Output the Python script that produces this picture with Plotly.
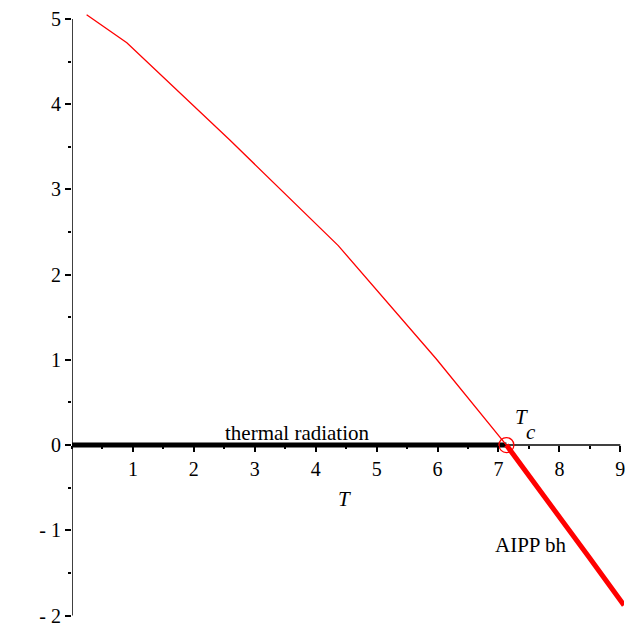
import plotly.graph_objects as go

# Data
T_free = [0.24, 0.90, 2.59, 4.37, 5.98, 7.13]
F_free = [5.05, 4.72, 3.58, 2.34, 1.01, 0.0]
T_bh = [7.13, 7.80, 8.49, 9.06]
F_bh = [0.0, -0.64, -1.32, -1.88]
T_rad = [0.0, 7.13]
F_rad = [0.0, 0.0]
Tc = 7.13
x_ticks = [1, 2, 3, 4, 5, 6, 7, 8, 9]
y_ticks = [-2, -1, 0, 1, 2, 3, 4, 5]
y_ticktext = ["- 2", "- 1", "0", "1", "2", "3", "4", "5"]

FONT = "Liberation Serif, Times New Roman, serif"

fig = go.Figure()
fig.add_trace(go.Scatter(x=T_rad, y=F_rad, mode="lines",
                         line=dict(color="black", width=5), hoverinfo="skip"))
fig.add_trace(go.Scatter(x=T_free, y=F_free, mode="lines",
                         line=dict(color="#ff0000", width=1.3), hoverinfo="skip"))
fig.add_trace(go.Scatter(x=T_bh, y=F_bh, mode="lines",
                         line=dict(color="#ff0000", width=5), hoverinfo="skip"))
fig.add_trace(go.Scatter(x=[Tc], y=[0], mode="markers",
                         marker=dict(symbol="circle-open", size=15, color="#ff0000",
                                     line=dict(width=1.3, color="#ff0000")),
                         hoverinfo="skip"))

# axis lines
fig.add_shape(type="line", x0=0, x1=9, y0=0, y1=0, xref="x", yref="y",
              line=dict(color="black", width=1.5), layer="below")
fig.add_shape(type="line", x0=0, x1=0, y0=-2, y1=5, xref="x", yref="y",
              line=dict(color="black", width=1.5), layer="below")

ymin, ymax = -2.111, 5.222
fig.update_layout(
    width=625, height=627,
    margin=dict(l=72, r=0, t=0, b=0),
    paper_bgcolor="white", plot_bgcolor="white",
    showlegend=False,
    font=dict(family=FONT, size=20, color="black"),
    xaxis=dict(range=[0, 9.06], showgrid=False, zeroline=False, showline=False,
               anchor="free", position=(0 - ymin) / (ymax - ymin),
               tickmode="array", tickvals=x_ticks, ticklabeloverflow="allow",
               ticks="outside", ticklen=6, tickwidth=1.5, tickcolor="black",
               minor=dict(dtick=0.5, tick0=0, ticks="outside", ticklen=3,
                          tickwidth=1.5, tickcolor="black", showgrid=False),
               tickfont=dict(family=FONT, size=20)),
    yaxis=dict(range=[ymin, ymax], showgrid=False, zeroline=False, showline=False,
               tickmode="array", tickvals=y_ticks, ticktext=y_ticktext,
               ticklabeloverflow="allow",
               ticks="outside", ticklen=6, tickwidth=1.5, tickcolor="black",
               minor=dict(dtick=0.5, tick0=0, ticks="outside", ticklen=3,
                          tickwidth=1.5, tickcolor="black", showgrid=False),
               tickfont=dict(family=FONT, size=20)),
)

ann = dict(showarrow=False, xref="x", yref="y", font=dict(family=FONT, size=21, color="black"))
fig.add_annotation(x=4.47, y=-0.63, text="<i>T</i>", **ann)
fig.add_annotation(x=-0.967, y=2.51, text="<i>F</i>", **ann)
fig.add_annotation(x=3.70, y=0.146, text="thermal radiation", **ann)
fig.add_annotation(x=7.52, y=-1.17, text="AIPP bh", **ann)
fig.add_annotation(x=7.38, y=0.33, text="<i>T</i>", **ann)
fig.add_annotation(x=7.53, y=0.158, text="<i>c</i>", **ann)

fig.write_html("out.html", config={"displayModeBar": False},
               post_script="document.body.style.margin='0';document.body.style.overflow='hidden';")
